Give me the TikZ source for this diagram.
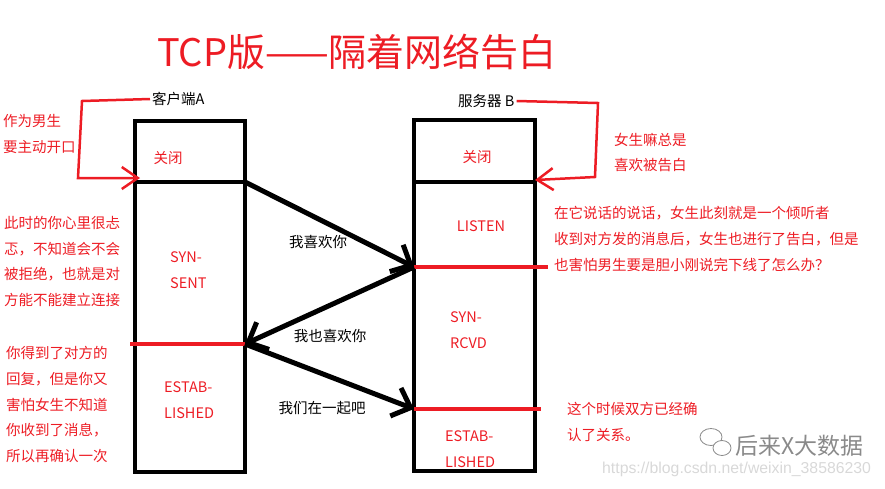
\documentclass[tikz,border=0pt]{standalone}
\usepackage{fontspec}
\setmainfont{Noto Sans CJK SC}
\newfontfamily\urlfont{Liberation Sans}
\usetikzlibrary{arrows.meta}
\definecolor{pred}{HTML}{ED1C24}
\definecolor{wmgray}{HTML}{8A8A8A}
\definecolor{urlgray}{HTML}{D8D8D8}
\begin{document}
\begin{tikzpicture}[x=1pt,y=-1pt,
  boxline/.style={line width=4.5pt,black},
  redline/.style={line width=3.5pt,pred},
  msg/.style={line width=5pt,black,-{Straight Barb[length=16pt,width=30pt]}},
  redcon/.style={line width=2.5pt,pred,-{Straight Barb[length=16pt,width=22pt]}},
  rtxt/.style={inner sep=0pt,text=pred,font=\fontsize{14.5}{25.7}\selectfont,align=left},
  btxt/.style={inner sep=0pt,text=black,font=\fontsize{14.5}{25.7}\selectfont,align=left},
  lbl/.style={inner sep=0pt,text=black,font=\fontsize{14.5}{16}\selectfont}]
\useasboundingbox (0,0) rectangle (885,488);
% title
\node[inner sep=0pt,text=pred,font=\fontsize{38}{42}\selectfont] (title) at (357,52) {TCP版——隔着网络告白};
% boxes
\draw[boxline] (135,121) rectangle (245,472);
\draw[boxline] (414,120) rectangle (535,471);
\coordinate (A0) at (135,182);
\coordinate (A1) at (245,182);
\coordinate (A2) at (245,344);
\coordinate (B0) at (414,182);
\coordinate (B1) at (414,267);
\coordinate (B2) at (414,409);
\coordinate (Bd) at (535,182);
\draw[boxline] (A0) -- (A1);
\draw[boxline] (B0) -- (Bd);
\coordinate (Ar0) at (130,344);
\coordinate (Br1) at (548,267);
\coordinate (Br2) at (541,409);
\draw[redline] (Ar0) -- (A2);
\draw[redline] (B1) -- (Br1);
\draw[redline] (B2) -- (Br2);
% messages
\draw[msg] (A1) -- (B1);
\draw[msg] (B1) -- (A2);
\draw[msg] (A2) -- (B2);
\node[btxt] (m1) at (318,242) {我喜欢你};
\node[btxt] (m2) at (330,336) {我也喜欢你};
\node[btxt] (m3) at (322,408) {我们在一起吧};
% box states
\node[rtxt] (s1) at (168,158) {关闭};
\node[rtxt,anchor=west] (s2) at (170,270) {SYN-\\SENT};
\node[rtxt,anchor=west] (s3) at (164,400) {ESTAB-\\LISHED};
\node[rtxt] (t1) at (477,157) {关闭};
\node[rtxt] (t2) at (481,226) {LISTEN};
\node[rtxt,anchor=west] (t3) at (450,330) {SYN-\\RCVD};
\node[rtxt,anchor=west] (t4) at (445,449) {ESTAB-\\LISHED};
% headers
\node[lbl,anchor=west] (ca) at (152,99) {客户端A};
\node[lbl,anchor=west] (sb) at (458,101) {服务器 B};
\coordinate (ck1) at (82,101);
\coordinate (ck2) at (78,178);
\coordinate (ck3) at (140,178);
\draw[redcon] ([xshift=-2pt]ca.west) -- (ck1) -- (ck2) -- (ck3);
\coordinate (sk1) at (598,103);
\coordinate (sk2) at (595,177);
\coordinate (sk3) at (535,180);
\draw[redcon] ([xshift=2pt]sb.east) -- (sk1) -- (sk2) -- (sk3);
% side notes
\node[rtxt,anchor=west] (n1) at (3,134) {作为男生\\要主动开口};
\node[rtxt,anchor=west] (n2) at (4,261.5) {此时的你心里很忐\\忑，不知道会不会\\被拒绝，也就是对\\方能不能建立连接};
\node[rtxt,anchor=west] (n3) at (6,404.5) {你得到了对方的\\回复，但是你又\\害怕女生不知道\\你收到了消息，\\所以再确认一次};
\node[rtxt,anchor=west] (n4) at (614,152.5) {女生嘛总是\\喜欢被告白};
\node[rtxt,anchor=west] (n5) at (554,239) {在它说话的说话，女生此刻就是一个倾听者\\收到对方发的消息后，女生也进行了告白，但是\\也害怕男生要是胆小刚说完下线了怎么办？};
\node[rtxt,anchor=west] (n6) at (567,422) {这个时候双方已经确\\认了关系。};
% watermark
\draw[wmgray,line width=0.8pt,fill=white] (711,437) ellipse (11pt and 8.5pt);
\draw[wmgray,line width=0.8pt,fill=white] (722,448) ellipse (9pt and 7.5pt);
\node[inner sep=0pt,text=wmgray,font=\fontsize{23}{26}\selectfont,anchor=west] (wm) at (735,446) {后来X大数据};
\node[inner sep=0pt,text=urlgray,font=\urlfont\fontsize{15.8}{17}\selectfont,anchor=west] (url) at (602,469) {https://blog.csdn.net/weixin\_38586230};
\end{tikzpicture}
\end{document}
